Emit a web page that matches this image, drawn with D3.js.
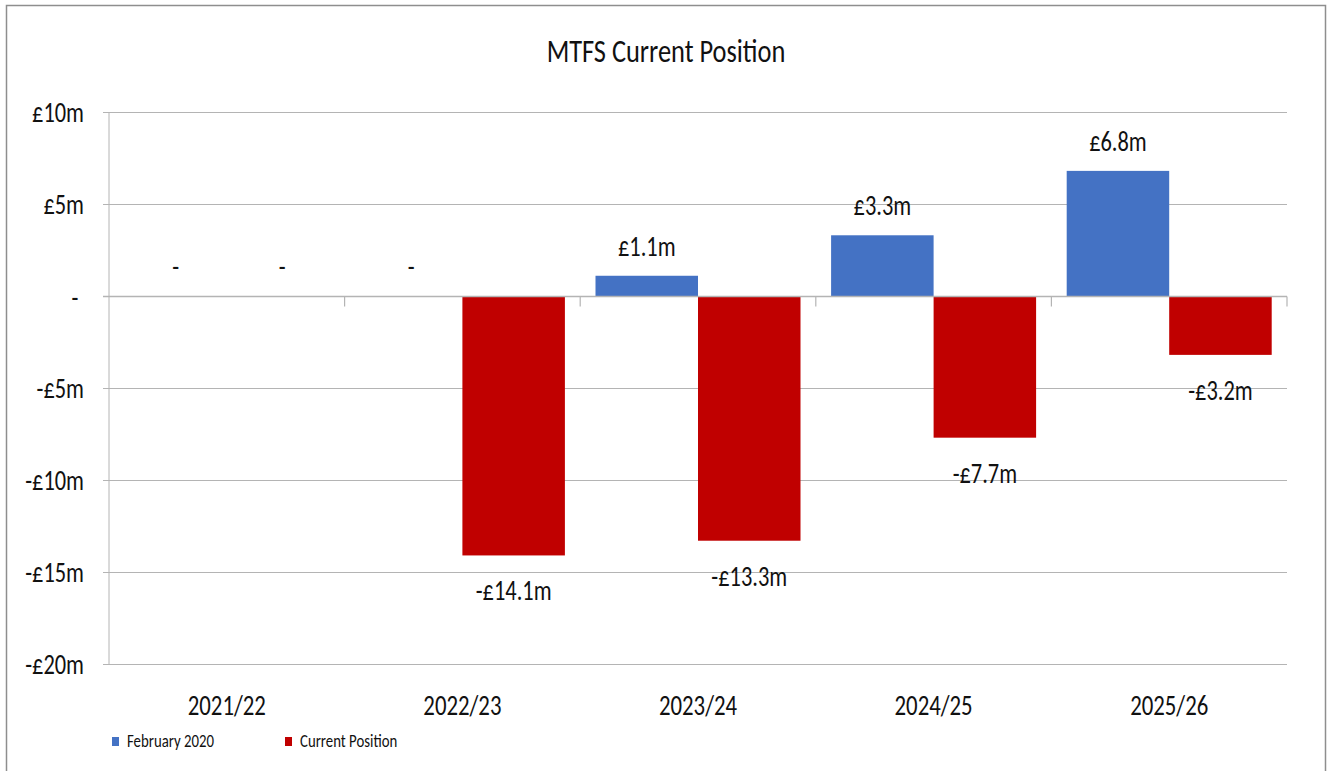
<!DOCTYPE html>
<html>
<head>
<meta charset="utf-8">
<script src="https://cdn.jsdelivr.net/npm/d3@7"></script>
<style>
  html, body { margin: 0; padding: 0; background: #fff; }
  svg text { font-family: Carlito, Lato, "Open Sans", sans-serif; fill: #111; }
</style>
</head>
<body>
<div id="chart"></div>
<script>
// ── MTFS Current Position: grouped bar chart ──

const years = ['2021/22', '2022/23', '2023/24', '2024/25', '2025/26'];
const seriesNames = ['February 2020', 'Current Position'];
const feb2020 = [0, 0, 1.1, 3.3, 6.8];
const currentPosition = [0, -14.1, -13.3, -7.7, -3.2];
const yTicks = [-20, -15, -10, -5, 0, 5, 10];

const W = 1332, H = 771;
const SX = 0.8;   // the source picture is squeezed horizontally
const COLORS = { 'February 2020': '#4472C4', 'Current Position': '#C00000' };
const GRID = '#b4b4b4';

const plot = { left: 109, right: 1287, top: 112, bottom: 664 };

const rows = [];
years.forEach((yr, i) => {
    rows.push({ year: yr, series: seriesNames[0], value: feb2020[i] });
    rows.push({ year: yr, series: seriesNames[1], value: currentPosition[i] });
});

const svg = d3.select('#chart').append('svg')
    .attr('width', W).attr('height', H);

// outer chart border (bottom edge sits outside the photo)
svg.append('rect')
    .attr('x', 6.5).attr('y', 5.5)
    .attr('width', 1319).attr('height', 800)
    .attr('fill', 'none').attr('stroke', '#8e8e8e').attr('stroke-width', 1.5);

const x = d3.scaleBand().domain(years).range([plot.left, plot.right]);
const xInner = d3.scaleBand().domain(seriesNames)
    .range([15.3, x.bandwidth() - 15.3]);
const y = d3.scaleLinear().domain([-20, 10]).range([plot.bottom, plot.top]);

// squeezed text helper
function label(sel, px, py, txt, size, anchor) {
    return sel.append('text')
        .attr('transform', `translate(${px},${py}) scale(${SX},1)`)
        .attr('text-anchor', anchor || 'middle')
        .style('font-size', size + 'px')
        .text(txt);
}

// title
label(svg, W / 2, 62, 'MTFS Current Position', 33);

// gridlines + y axis
const yAxis = svg.append('g')
    .attr('transform', `translate(${plot.left},0)`)
    .call(d3.axisLeft(y).tickValues(yTicks).tickSize(6));
yAxis.select('.domain').attr('stroke', GRID).attr('d', `M0,${plot.top}V${plot.bottom}`);
yAxis.selectAll('.tick line').attr('stroke', GRID);
yAxis.selectAll('.tick text').remove();
yAxis.selectAll('.tick').each(function (d) {
    const t = d3.select(this);
    if (d === 0) label(t, -34, 10, '-', 28, 'middle');
    else label(t, -25, 9, (d < 0 ? '-£' : '£') + Math.abs(d) + 'm', 28, 'end');
});

svg.append('g').selectAll('line')
    .data(yTicks.filter(d => d !== 0))
    .join('line')
    .attr('x1', plot.left).attr('x2', plot.right)
    .attr('y1', d => y(d) + 0.5).attr('y2', d => y(d) + 0.5)
    .attr('stroke', GRID).attr('stroke-width', 1.2);

// bars
svg.append('g').selectAll('rect')
    .data(rows.filter(d => d.value !== 0))
    .join('rect')
    .attr('x', d => x(d.year) + xInner(d.series))
    .attr('width', xInner.bandwidth())
    .attr('y', d => y(Math.max(0, d.value)))
    .attr('height', d => Math.abs(y(d.value) - y(0)))
    .attr('fill', d => COLORS[d.series]);

// category axis along zero, ticks between categories
const xAxis = svg.append('g')
    .attr('transform', `translate(0,${y(0) + 0.5})`);
xAxis.append('line')
    .attr('x1', plot.left - 6).attr('x2', plot.right)
    .attr('stroke', GRID).attr('stroke-width', 1.5);
xAxis.selectAll('line.tk')
    .data(years.slice(1).map(v => x(v)).concat([plot.right]))
    .join('line').attr('class', 'tk')
    .attr('x1', d => d).attr('x2', d => d)
    .attr('y1', 0).attr('y2', 10)
    .attr('stroke', GRID).attr('stroke-width', 1.2);

// category labels
const catG = svg.append('g');
years.forEach(yr => label(catG, x(yr) + x.bandwidth() / 2, 715, yr, 28.5));

// data labels
const labelNudge = { '2021/22|Current Position': 4 };
const lblG = svg.append('g');
rows.forEach(d => {
    const cx = x(d.year) + xInner(d.series) + xInner.bandwidth() / 2
        + (labelNudge[d.year + '|' + d.series] || 0);
    let txt, ly;
    if (d.value === 0) { txt = '-'; ly = y(0) - 20; }
    else if (d.value > 0) { txt = '£' + d.value.toFixed(1) + 'm'; ly = y(d.value) - 20; }
    else { txt = '-£' + Math.abs(d.value).toFixed(1) + 'm'; ly = y(d.value) + 45; }
    label(lblG, cx, ly, txt, 28);
});

// legend
const legend = svg.append('g');
const legendX = [112, 285];
seriesNames.forEach((s, i) => {
    legend.append('rect')
        .attr('x', legendX[i]).attr('y', 737)
        .attr('width', 7).attr('height', 9)
        .attr('fill', COLORS[s]);
    label(legend, legendX[i] + 15, 747, s, 18.5, 'start');
});
</script>
</body>
</html>
